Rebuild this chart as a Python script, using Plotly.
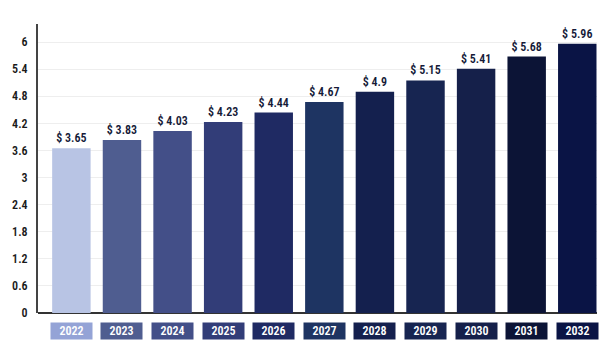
import plotly.graph_objects as go

years = ["2022", "2023", "2024", "2025", "2026", "2027", "2028", "2029", "2030", "2031", "2032"]
values = [3.65, 3.83, 4.03, 4.23, 4.44, 4.67, 4.9, 5.15, 5.41, 5.68, 5.96]
bar_colors = ["#b8c4e4", "#4f5d90", "#434f88", "#323d78", "#1f2a63", "#1e3462",
              "#14204e", "#172551", "#15204a", "#0c1436", "#0a1445"]
label_colors = ["#94a3d6", "#4f5d90", "#434f88", "#323d78", "#1f2a63", "#1e3462",
                "#14204e", "#172551", "#15204a", "#0c1436", "#0a1445"]
y_ticks = [0, 0.6, 1.2, 1.8, 2.4, 3, 3.6, 4.2, 4.8, 5.4, 6]

FONT = "Roboto Condensed, Liberation Sans Narrow, Roboto, sans-serif"

fig = go.Figure(go.Bar(
    x=list(range(len(years))),
    y=values,
    marker=dict(color=bar_colors, line=dict(width=0)),
    width=0.76,
    text=[f"$ {v:g}" for v in values],
    textposition="outside",
    textfont=dict(family=FONT, size=12, color="#151a38", weight=600),
    cliponaxis=False,
))

annotations = []
for i, (yr, c) in enumerate(zip(years, label_colors)):
    annotations.append(dict(
        x=i, xref="x", y=0, yref="paper", yanchor="top", yshift=-9,
        text=yr, showarrow=False, bgcolor=c,
        width=39, height=14, borderpad=1,
        font=dict(family=FONT, size=12, color="white", weight=600),
    ))

fig.update_layout(
    width=615, height=350,
    margin=dict(l=31, r=18, t=24, b=37),
    paper_bgcolor="white", plot_bgcolor="white",
    showlegend=False,
    annotations=annotations,
    xaxis=dict(range=[-0.66, 10.39], showticklabels=False, showgrid=False,
               zeroline=False, showline=False, ticks=""),
    yaxis=dict(range=[0, 6.4], tickvals=y_ticks, ticktext=[f"{v:g}" for v in y_ticks],
               showgrid=True, gridcolor="#eeeeee", gridwidth=1,
               zeroline=True, zerolinecolor="#333333", zerolinewidth=2,
               showline=True, linecolor="#444444", linewidth=2,
               ticks="", ticklabelstandoff=6,
               tickfont=dict(family=FONT, size=12, color="#1a1a1a", weight=600)),
)

fig.write_html("out.html")
